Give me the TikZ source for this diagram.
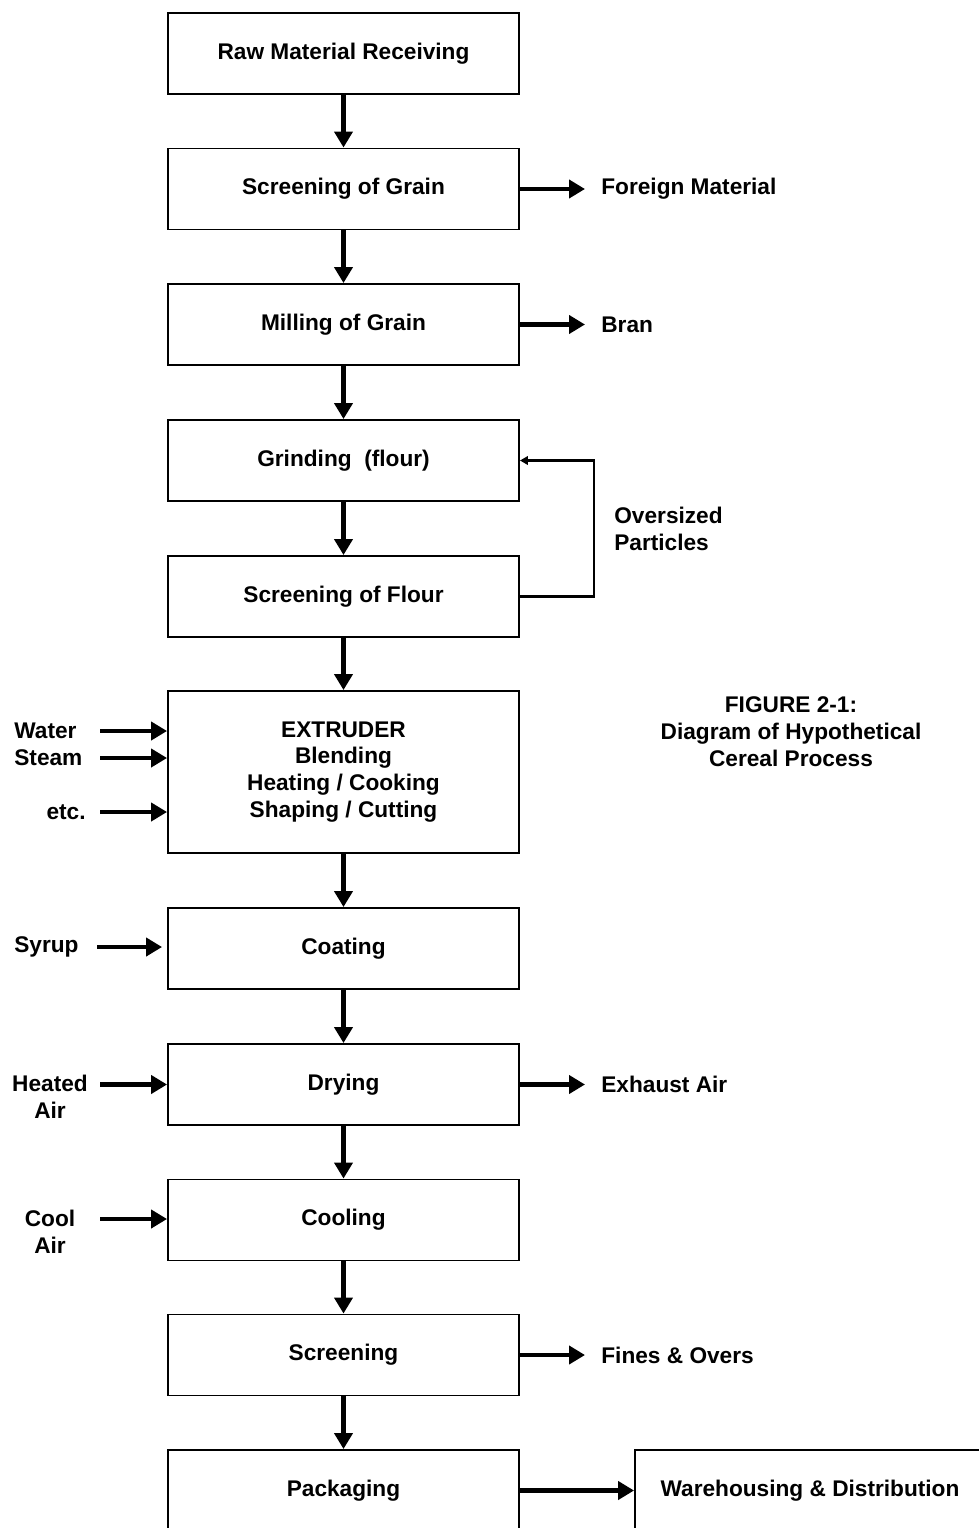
\documentclass[tikz,border=0pt]{standalone}
\usepackage{fontspec}
\setmainfont{Liberation Sans}
\usetikzlibrary{arrows.meta,positioning}

\begin{document}
\begin{tikzpicture}[x=0.02cm, y=-0.02cm,
	every node/.style={font=\fontsize{12.9}{15.3}\selectfont\bfseries},
	stage/.style={draw, line width=1.1pt, minimum width=7.02cm, minimum height=1.62cm, inner sep=0pt, align=center},
	flow/.style={line width=2.6pt, -{Triangle[length=0.32cm, width=0.36cm]}},
	fb/.style={line width=1.3pt, -{Triangle[length=0.16cm, width=0.17cm]}},
	lbl/.style={inner sep=0pt}]

			\useasboundingbox (0,0) rectangle (979,1528);

			% Main process stages
			\node[stage] (raw) at (343.5,53.5) {Raw Material Receiving};
			\node[stage] (sgrain) at (343.5,189) {Screening of Grain};
			\node[stage] (mill) at (343.5,324.5) {Milling of Grain};
			\node[stage] (grind) at (343.5,460.5) {Grinding\ \ (flour)};
			\node[stage] (sflour) at (343.5,596.5) {Screening of Flour};
			\node[stage, minimum height=3.24cm] (extruder) at (343.5,772) {EXTRUDER\\Blending\\Heating / Cooking\\Shaping / Cutting};
			\node[stage] (coat) at (343.5,948.5) {Coating};
			\node[stage] (dry) at (343.5,1084.5) {Drying};
			\node[stage] (cool) at (343.5,1220) {Cooling};
			\node[stage] (screen) at (343.5,1355) {Screening};
			\node[stage] (pack) at (343.5,1490.5) {Packaging};
			\node[stage, minimum width=7cm] (ware) at (810,1490.5) {Warehousing \& Distribution};

			% Downward flow
			\draw[flow] (raw) -- (sgrain);
			\draw[flow] (sgrain) -- (mill);
			\draw[flow] (mill) -- (grind);
			\draw[flow] (grind) -- (sflour);
			\draw[flow] (sflour) -- (extruder);
			\draw[flow] (extruder) -- (coat);
			\draw[flow] (coat) -- (dry);
			\draw[flow] (dry) -- (cool);
			\draw[flow] (cool) -- (screen);
			\draw[flow] (screen) -- (pack);
			\draw[flow] (pack) -- (ware);

			% Outputs on the right
			\node[lbl, anchor=west] (foreign) at (601,189) {Foreign Material};
			\node[lbl, anchor=west] (bran) at (601,324.5) {Bran};
			\node[lbl, anchor=west] (exhaust) at (601,1084.5) {Exhaust Air};
			\node[lbl, anchor=west] (fines) at (601,1355) {Fines \& Overs};
			\draw[flow, shorten >=0.32cm] (sgrain.east) -- (foreign.west);
			\draw[flow, shorten >=0.32cm] (mill.east) -- (bran.west);
			\draw[flow, shorten >=0.32cm] (dry.east) -- (exhaust.west);
			\draw[flow, shorten >=0.32cm] (screen.east) -- (fines.west);

			% Oversized particles back to grinding
			\draw[fb] (sflour.east) -- ++(74,0) |- (grind.east);
			\node[lbl, anchor=west, align=left] (oversized) at (614,529) {Oversized\\Particles};

			% Inputs on the left
			\node[lbl, anchor=west] (water) at (14,731) {Water};
			\node[lbl, anchor=west] (steam) at (14,758) {Steam};
			\node[lbl, anchor=east] (etc) at (86,812) {etc.};
			\node[lbl, anchor=west] (syrup) at (14,947) {Syrup};
			\node[lbl, align=center] (heated) at (50,1096.5) {Heated\\Air};
			\node[lbl, align=center] (coolair) at (50,1231.5) {Cool\\Air};

			\coordinate (inwater) at (100,731);
			\coordinate (insteam) at (100,758);
			\coordinate (inetc) at (100,812);
			\coordinate (insyrup) at (97,947);
			\coordinate (inheat) at (100,1084.5);
			\coordinate (incool) at (100,1219);
			\draw[flow] (inwater) -- (inwater -| extruder.west);
			\draw[flow] (insteam) -- (insteam -| extruder.west);
			\draw[flow] (inetc) -- (inetc -| extruder.west);
			\draw[flow, shorten >=0.1cm] (insyrup) -- (insyrup -| coat.west);
			\draw[flow] (inheat) -- (inheat -| dry.west);
			\draw[flow] (incool) -- (incool -| cool.west);

			% Figure caption
			\node[align=center] (caption) at (791,732) {FIGURE 2-1:\\Diagram of Hypothetical\\Cereal Process};

		\end{tikzpicture}
\end{document}
